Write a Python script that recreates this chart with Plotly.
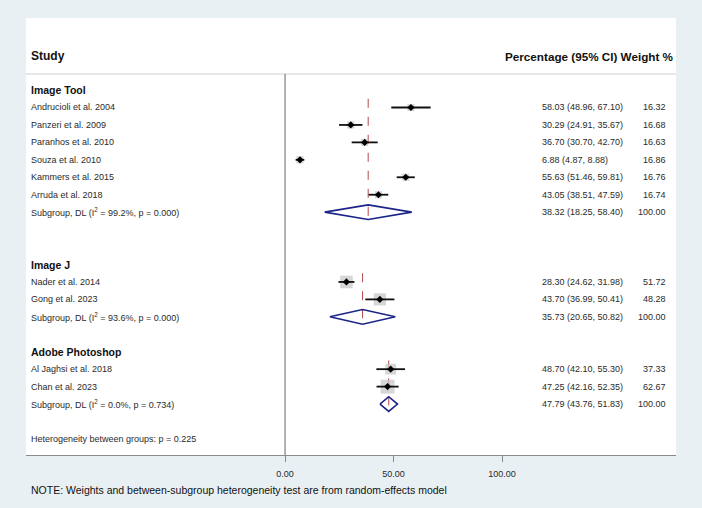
import plotly.graph_objects as go

# ---------------- data ----------------
group_names = ["Image Tool", "Image J", "Adobe Photoshop"]
group_rows = [0, 10, 15]

studies = [
    ["Andrucioli et al. 2004", "Panzeri et al. 2009", "Paranhos et al. 2010",
     "Souza et al. 2010", "Kammers et al. 2015", "Arruda et al. 2018"],
    ["Nader et al. 2014", "Gong et al. 2023"],
    ["Al Jaghsi et al. 2018", "Chan et al. 2023"],
]
est = [[58.03, 30.29, 36.70, 6.88, 55.63, 43.05], [28.30, 43.70], [48.70, 47.25]]
lo = [[48.96, 24.91, 30.70, 4.87, 51.46, 38.51], [24.62, 36.99], [42.10, 42.16]]
hi = [[67.10, 35.67, 42.70, 8.88, 59.81, 47.59], [31.98, 50.41], [55.30, 52.35]]
weights = [[16.32, 16.68, 16.63, 16.86, 16.76, 16.74], [51.72, 48.28], [37.33, 62.67]]

sub_est = [38.32, 35.73, 47.79]
sub_lo = [18.25, 20.65, 43.76]
sub_hi = [58.40, 50.82, 51.83]
sub_i2 = ["99.2%", "93.6%", "0.0%"]
sub_p = ["0.000", "0.000", "0.734"]

het_text = "Heterogeneity between groups: p = 0.225"
het_row = 20
note_text = "NOTE: Weights and between-subgroup heterogeneity test are from random-effects model"
tick_vals = [0, 50, 100]
tick_text = ["0.00", "50.00", "100.00"]

# ---------------- style ----------------
FONT = "Liberation Sans, Arial, Helvetica, sans-serif"
BG = "#e9f0f3"
NAVY = "#1c2585"
RED = "#b5474a"
X_CI = 0.791
X_W = 0.988
X_LAB = 0.004
TXT = "#2a2a2a"

fig = go.Figure()
ann = []

ci_x, ci_y, pt_x, pt_y, box_x, box_y, box_s = [], [], [], [], [], [], []
for g in range(3):
    r0 = group_rows[g]
    ann.append(dict(x=X_LAB, y=r0, xref="paper", yref="y", text=f"<b>{group_names[g]}</b>",
                    showarrow=False, xanchor="left", yanchor="middle",
                    font=dict(size=10.5, color="#111", family=FONT)))
    for i, name in enumerate(studies[g]):
        r = r0 + 1 + i
        ci_x += [lo[g][i], hi[g][i], None]
        ci_y += [r, r, None]
        pt_x.append(est[g][i]); pt_y.append(r)
        box_x.append(est[g][i]); box_y.append(r)
        box_s.append(1.75 * weights[g][i] ** 0.5)
        ann.append(dict(x=X_LAB, y=r, xref="paper", yref="y", text=name, showarrow=False,
                        xanchor="left", yanchor="middle", font=dict(size=9, color=TXT, family=FONT)))
        ann.append(dict(x=X_CI, y=r, xref="paper", yref="y",
                        text=f"{est[g][i]:.2f} ({lo[g][i]:.2f}, {hi[g][i]:.2f})", showarrow=False,
                        xanchor="left", yanchor="middle", font=dict(size=9, color=TXT, family=FONT)))
        ann.append(dict(x=X_W, y=r, xref="paper", yref="y", text=f"{weights[g][i]:.2f}",
                        showarrow=False, xanchor="right", yanchor="middle",
                        font=dict(size=9, color=TXT, family=FONT)))
    rs = r0 + 1 + len(studies[g])
    # subgroup diamond
    fig.add_trace(go.Scatter(
        x=[sub_lo[g], sub_est[g], sub_hi[g], sub_est[g], sub_lo[g]],
        y=[rs, rs - 0.42, rs, rs + 0.42, rs],
        mode="lines", line=dict(color=NAVY, width=1.6), fill="toself", fillcolor="rgba(255,255,255,0)",
        hoverinfo="skip", showlegend=False))
    # dashed line at subgroup estimate
    fig.add_shape(type="line", xref="x", yref="y", x0=sub_est[g], x1=sub_est[g],
                  y0=r0 + 0.5, y1=rs + 0.42, line=dict(color=RED, width=1, dash="dash"), layer="below")
    ann.append(dict(x=X_LAB, y=rs, xref="paper", yref="y",
                    text=f"Subgroup, DL (I<sup>2</sup> = {sub_i2[g]}, p = {sub_p[g]})", showarrow=False,
                    xanchor="left", yanchor="middle", font=dict(size=9, color=TXT, family=FONT)))
    ann.append(dict(x=X_CI, y=rs, xref="paper", yref="y",
                    text=f"{sub_est[g]:.2f} ({sub_lo[g]:.2f}, {sub_hi[g]:.2f})", showarrow=False,
                    xanchor="left", yanchor="middle", font=dict(size=9, color=TXT, family=FONT)))
    ann.append(dict(x=X_W, y=rs, xref="paper", yref="y", text="100.00", showarrow=False,
                    xanchor="right", yanchor="middle", font=dict(size=9, color=TXT, family=FONT)))

fig.add_trace(go.Scatter(x=box_x, y=box_y, mode="markers",
                         marker=dict(symbol="square", size=box_s, color="#c4c4c4", line=dict(width=0)),
                         hoverinfo="skip", showlegend=False))
fig.add_trace(go.Scatter(x=ci_x, y=ci_y, mode="lines", line=dict(color="#111", width=1.8),
                         hoverinfo="skip", showlegend=False))
fig.add_trace(go.Scatter(x=pt_x, y=pt_y, mode="markers",
                         marker=dict(symbol="diamond", size=5.5, color="#000"),
                         hoverinfo="skip", showlegend=False))

# headers
ann.append(dict(x=X_LAB, y=-1.95, xref="paper", yref="y", text="<b>Study</b>", showarrow=False,
                xanchor="left", yanchor="middle", font=dict(size=12, color="#111", family=FONT)))
ann.append(dict(x=1.0, y=-1.95, xref="paper", yref="y", text="<b>Percentage (95% CI) Weight %</b>",
                showarrow=False, xanchor="right", yanchor="middle", font=dict(size=11.7, color="#111", family=FONT)))
ann.append(dict(x=X_LAB, y=het_row, xref="paper", yref="y", text=het_text, showarrow=False,
                xanchor="left", yanchor="middle", font=dict(size=9, color=TXT, family=FONT)))
ann.append(dict(x=X_LAB, y=-35 / 437, xref="paper", yref="paper", text=note_text, showarrow=False,
                xanchor="left", yanchor="middle", font=dict(size=10.5, color="#111", family=FONT)))

# header separator line and null line
fig.add_shape(type="line", xref="paper", yref="y", x0=0, x1=1, y0=-0.92, y1=-0.92,
              line=dict(color="#cfcfcf", width=1.2))
fig.add_shape(type="line", xref="x", yref="y", x0=0, x1=0, y0=-0.92, y1=20.92,
              line=dict(color="#888888", width=1.3))

fig.update_layout(
    width=702, height=508,
    margin=dict(l=26, r=26, t=18, b=53),
    paper_bgcolor=BG, plot_bgcolor="white",
    annotations=ann, showlegend=False,
    xaxis=dict(range=[-119.4, 180.2], tickvals=tick_vals, ticktext=tick_text, showgrid=False,
               zeroline=False, showline=True, linecolor="#8a8a8a", linewidth=1.2,
               ticks="outside", ticklen=6, tickcolor="#8a8a8a", tickwidth=1.2,
               ticklabelstandoff=4,
               tickfont=dict(size=9, color=TXT, family=FONT), fixedrange=True),
    yaxis=dict(range=[20.92, -4.13], showgrid=False, zeroline=False, showticklabels=False,
               showline=False, fixedrange=True),
)

fig.write_html("out.html")
